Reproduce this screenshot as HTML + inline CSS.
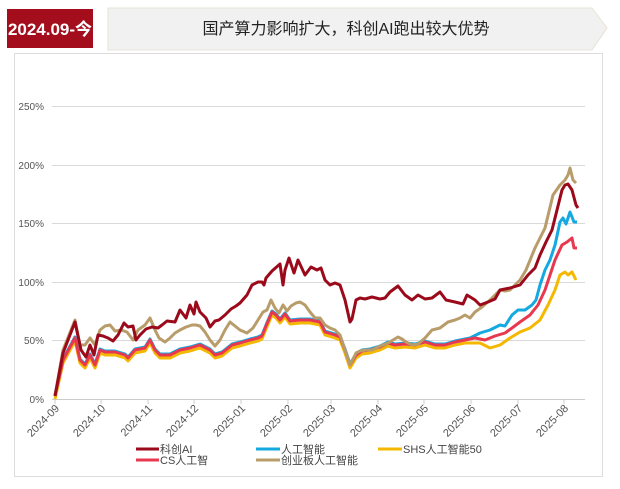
<!DOCTYPE html>
<html><head><meta charset="utf-8"><style>
body{margin:0;width:620px;height:489px;background:#fff;overflow:hidden;font-family:"Liberation Sans","Noto Sans CJK SC",sans-serif}
</style></head><body>
<svg width="620" height="489" xmlns="http://www.w3.org/2000/svg" style="position:absolute;left:0;top:0">
<polygon points="108,8 592,8 607,28 592,50 108,50" fill="#f1f1f1" stroke="#e8e2d6" stroke-width="1"/>
<rect x="7" y="9" width="86" height="39" fill="#a40d1c"/>
<text x="50" y="35" font-size="17" font-weight="bold" fill="#fff" text-anchor="middle" font-family="Liberation Sans, Noto Sans CJK SC, sans-serif">2024.09-今</text>
<text x="346" y="34" font-size="16" fill="#222" text-anchor="middle" font-family="Liberation Sans, Noto Sans CJK SC, sans-serif">国产算力影响扩大，科创AI跑出较大优势</text>
<rect x="14.5" y="53.5" width="588" height="423" fill="#fff" stroke="#ddd"/>
<g stroke="#d9d9d9" stroke-width="1">
<line x1="52" x2="585" y1="106.5" y2="106.5"/><line x1="52" x2="585" y1="165.5" y2="165.5"/>
<line x1="52" x2="585" y1="223.5" y2="223.5"/><line x1="52" x2="585" y1="282.5" y2="282.5"/>
<line x1="52" x2="585" y1="340.5" y2="340.5"/><line x1="52" x2="585" y1="399.5" y2="399.5" stroke="#ccc"/>
</g>
<g font-size="10" fill="#555" text-anchor="end" font-family="Liberation Sans, sans-serif">
<text x="44" y="110">250%</text><text x="44" y="169">200%</text><text x="44" y="227">150%</text>
<text x="44" y="286">100%</text><text x="44" y="344">50%</text><text x="44" y="403">0%</text>
</g>
<g id="xt" font-size="11" fill="#555" font-family="Liberation Sans, sans-serif"></g>
<g id="lines" fill="none" stroke-width="3" stroke-linejoin="round"></g>
<g stroke-width="3">
<line x1="136" x2="159" y1="449" y2="449" stroke="#9b0a1a"/><line x1="136" x2="159" y1="460" y2="460" stroke="#e8384f"/>
<line x1="256" x2="280" y1="449" y2="449" stroke="#14a9e0"/><line x1="256" x2="280" y1="460" y2="460" stroke="#b89c6a"/>
<line x1="378" x2="402" y1="449" y2="449" stroke="#f5b800"/>
</g>
<g font-size="11" fill="#444" font-family="Liberation Sans, Noto Sans CJK SC, sans-serif">
<text x="160" y="453">科创AI</text><text x="160" y="464">CS人工智</text>
<text x="281" y="453">人工智能</text><text x="281" y="464">创业板人工智能</text>
<text x="403" y="453">SHS人工智能50</text>
</g>
</svg>
<script>
var NS="http://www.w3.org/2000/svg";
var xt=document.getElementById("xt");
var labs=["2024-09","2024-10","2024-11","2024-12","2025-01","2025-02","2025-03","2025-04","2025-05","2025-06","2025-07","2025-08"];
var xs=[55,101,148,194,241,288,331,378,424,471,518,564];
labs.forEach(function(l,i){
 var tk=document.createElementNS(NS,"line");tk.setAttribute("x1",xs[i]);tk.setAttribute("x2",xs[i]);tk.setAttribute("y1",399);tk.setAttribute("y2",404);tk.setAttribute("stroke","#ccc");xt.appendChild(tk);
 var t=document.createElementNS(NS,"text");t.setAttribute("text-anchor","end");t.setAttribute("transform","translate("+(xs[i]+5)+",409) rotate(-45)");t.textContent=l;xt.appendChild(t);
});
var ai=[55,396,63,353,75,322,81,350,86,357,90,345,94,355,98,335,103,336,108,338,113,341,118,335,124,323,128,327,133,326,136,340,140,335,143,332,146,329,152,327,158,328,162,325,167,321,175,322,180,310,186,318,190,305,194,314,196,302,200,312,206,318,210,327,215,321,219,320,225,315,231,309,236,306,240,303,247,295,252,285,258,282,262,282,264,285,266,278,272,271,280,264,283,285,285,270,289,258,294,273,298,260,305,275,311,267,317,270,321,268,325,280,330,285,335,283,340,285,345,300,350,322,352,319,356,300,360,298,365,299,372,297,380,299,385,298,390,292,398,286,405,295,412,300,418,295,425,299,432,298,440,292,446,300,455,302,463,304,467,295,475,300,480,305,488,302,495,299,500,290,510,288,520,285,528,275,535,268,540,255,546,242,552,230,557,210,562,190,565,185,568,184,572,190,576,205,578,208];
var cy=[55,396,63,350,75,320,80,345,85,345,90,338,95,345,100,330,105,326,110,325,115,331,121,330,127,332,133,340,138,330,145,325,150,318,155,330,159,338,165,342,170,338,175,333,180,330,186,327,192,325,196,325,200,326,205,332,210,340,215,346,220,340,225,330,230,322,235,326,240,330,247,333,253,328,258,320,263,312,267,310,271,300,275,308,279,313,283,305,287,311,291,306,296,303,300,302,305,305,310,312,315,318,320,318,325,325,330,328,335,330,340,335,345,350,350,365,356,353,360,351,366,350,372,350,378,347,383,345,388,343,393,340,398,337,402,339,406,342,412,345,418,344,425,338,432,330,440,328,448,322,455,320,460,318,465,315,470,318,475,312,482,307,490,300,500,290,505,291,510,290,515,285,520,280,526,270,535,248,545,228,553,195,560,185,565,180,568,175,570,168,573,180,576,183];
var cs=[55,396,63,360,75,338,80,360,85,365,90,355,95,365,100,350,105,352,115,352,125,355,128,358,135,350,145,348,150,340,155,350,160,355,170,355,180,350,190,348,200,345,210,350,215,355,222,353,232,345,240,343,250,340,258,338,262,336,266,326,272,312,276,315,280,320,285,314,290,321,300,320,310,320,320,322,325,332,335,335,340,337,345,350,350,365,356,355,362,351,370,350,380,347,388,343,395,345,405,344,415,345,425,342,435,345,445,345,455,342,465,340,475,338,485,340,495,336,505,333,512,328,520,322,530,315,538,305,545,290,550,275,555,260,562,245,567,242,572,238,574,248,577,248];
function shift(a,d,xmax){var r=[];for(var i=0;i<a.length;i+=2){if(a[i]<=xmax){r.push(a[i],a[i+1]+d);}}return r;}
var blue=shift(cs,-1,466).concat([470,338,480,333,490,330,500,325,505,326,512,315,518,310,525,310,532,305,536,300,540,285,545,270,550,260,555,245,560,222,563,218,566,224,570,212,574,222,577,222]);
var yel=shift(cs,3,470).concat([480,343,490,348,500,345,510,338,520,332,530,328,540,320,548,305,555,290,560,275,565,272,568,275,572,272,576,280]);
var g=document.getElementById("lines");
[[yel,"#f5b800"],[blue,"#14a9e0"],[cs,"#e8384f"],[cy,"#b89c6a"],[ai,"#9b0a1a"]].forEach(function(s){
 var p=document.createElementNS(NS,"polyline");p.setAttribute("points",s[0].join(" "));p.setAttribute("stroke",s[1]);g.appendChild(p);
});
</script>
</body></html>
